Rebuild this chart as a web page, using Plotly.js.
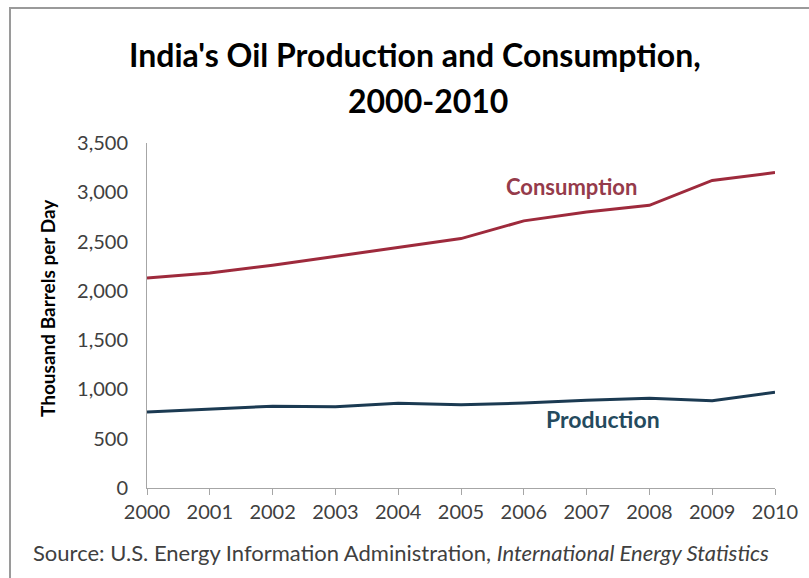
<!DOCTYPE html>
<html>
<head>
<meta charset="utf-8">
<script src="https://cdn.plot.ly/plotly-3.0.1.min.js"></script>
<style>
  html, body { margin: 0; padding: 0; background: #fff; }
  #wrap { position: relative; width: 809px; height: 578px; }
  #chart { width: 809px; height: 578px; }
  #frame { position: absolute; left: 9px; top: 7px; width: 820px; height: 600px;
           border-left: 2px solid #9a9a9a; border-top: 2px solid #9a9a9a; pointer-events: none; }
</style>
</head>
<body>
<div id="wrap">
  <div id="chart"></div>
  <div id="frame"></div>
</div>
<script>
const years = [2000, 2001, 2002, 2003, 2004, 2005, 2006, 2007, 2008, 2009, 2010];
const consumption = [2130, 2182, 2260, 2350, 2440, 2530, 2710, 2800, 2868, 3120, 3200];
const production = [771, 800, 830, 825, 860, 845, 862, 890, 910, 885, 972];
const yTicks = [0, 500, 1000, 1500, 2000, 2500, 3000, 3500];
const yTickText = ["0", "500", "1,000", "1,500", "2,000", "2,500", "3,000", "3,500"];

const FONT = "Lato, 'Open Sans', sans-serif";
const L = 147, R = 775, T = 143, B = 488;
const px = x => (x - L) / (R - L);
const py = y => (B - y) / (B - T);

const traces = [
  { x: years, y: consumption, type: "scatter", mode: "lines", name: "Consumption",
    line: { color: "#9e2a3c", width: 3 }, hoverinfo: "x+y" },
  { x: years, y: production, type: "scatter", mode: "lines", name: "Production",
    line: { color: "#1b3a52", width: 3 }, hoverinfo: "x+y" }
];

const layout = {
  width: 809, height: 578,
  margin: { l: L, r: 809 - R, t: T, b: 578 - B },
  paper_bgcolor: "#ffffff", plot_bgcolor: "#ffffff",
  showlegend: false,
  font: { family: FONT, color: "#404040" },
  xaxis: {
    range: [2000, 2010], tickvals: years, ticktext: years.map(String),
    showgrid: false, zeroline: false, showline: true, linecolor: "#a6a6a6", linewidth: 1,
    ticks: "outside", ticklen: 6, tickcolor: "#a6a6a6",
    tickfont: { family: FONT, size: 20, color: "#404040" }
  },
  yaxis: {
    range: [0, 3500], tickvals: yTicks, ticktext: yTickText,
    showgrid: false, zeroline: false, showline: true, linecolor: "#a6a6a6", linewidth: 1,
    ticks: "", ticklabelstandoff: 14,
    tickfont: { family: FONT, size: 20, color: "#404040" }
  },
  annotations: [
    { text: "<b>India's Oil Production and Consumption,</b>", xref: "paper", yref: "paper",
      x: px(415), y: py(54), xanchor: "center", yanchor: "middle", showarrow: false,
      font: { family: FONT, size: 32, color: "#000000" } },
    { text: "<b>2000-2010</b>", xref: "paper", yref: "paper",
      x: px(428), y: py(100), xanchor: "center", yanchor: "middle", showarrow: false,
      font: { family: FONT, size: 32, color: "#000000" } },
    { text: "<b>Thousand Barrels per Day</b>", xref: "paper", yref: "paper",
      x: px(47), y: py(308), xanchor: "center", yanchor: "middle", showarrow: false,
      textangle: -90, font: { family: FONT, size: 19, color: "#000000" } },
    { text: "Source: U.S. Energy Information Administration, <i>International Energy Statistics</i>",
      xref: "paper", yref: "paper", x: px(401), y: py(552), xanchor: "center", yanchor: "middle",
      showarrow: false, font: { family: FONT, size: 22, color: "#404040" } },
    { text: "<b>Consumption</b>", xref: "paper", yref: "paper", x: px(571), y: py(186),
      xanchor: "center", yanchor: "middle", showarrow: false,
      font: { family: FONT, size: 22, color: "#953b4b" } },
    { text: "<b>Production</b>", xref: "paper", yref: "paper", x: px(603), y: py(419),
      xanchor: "center", yanchor: "middle", showarrow: false,
      font: { family: FONT, size: 23, color: "#244a5e" } }
  ]
};

Plotly.newPlot("chart", traces, layout, { displayModeBar: false, staticPlot: true });
</script>
</body>
</html>
